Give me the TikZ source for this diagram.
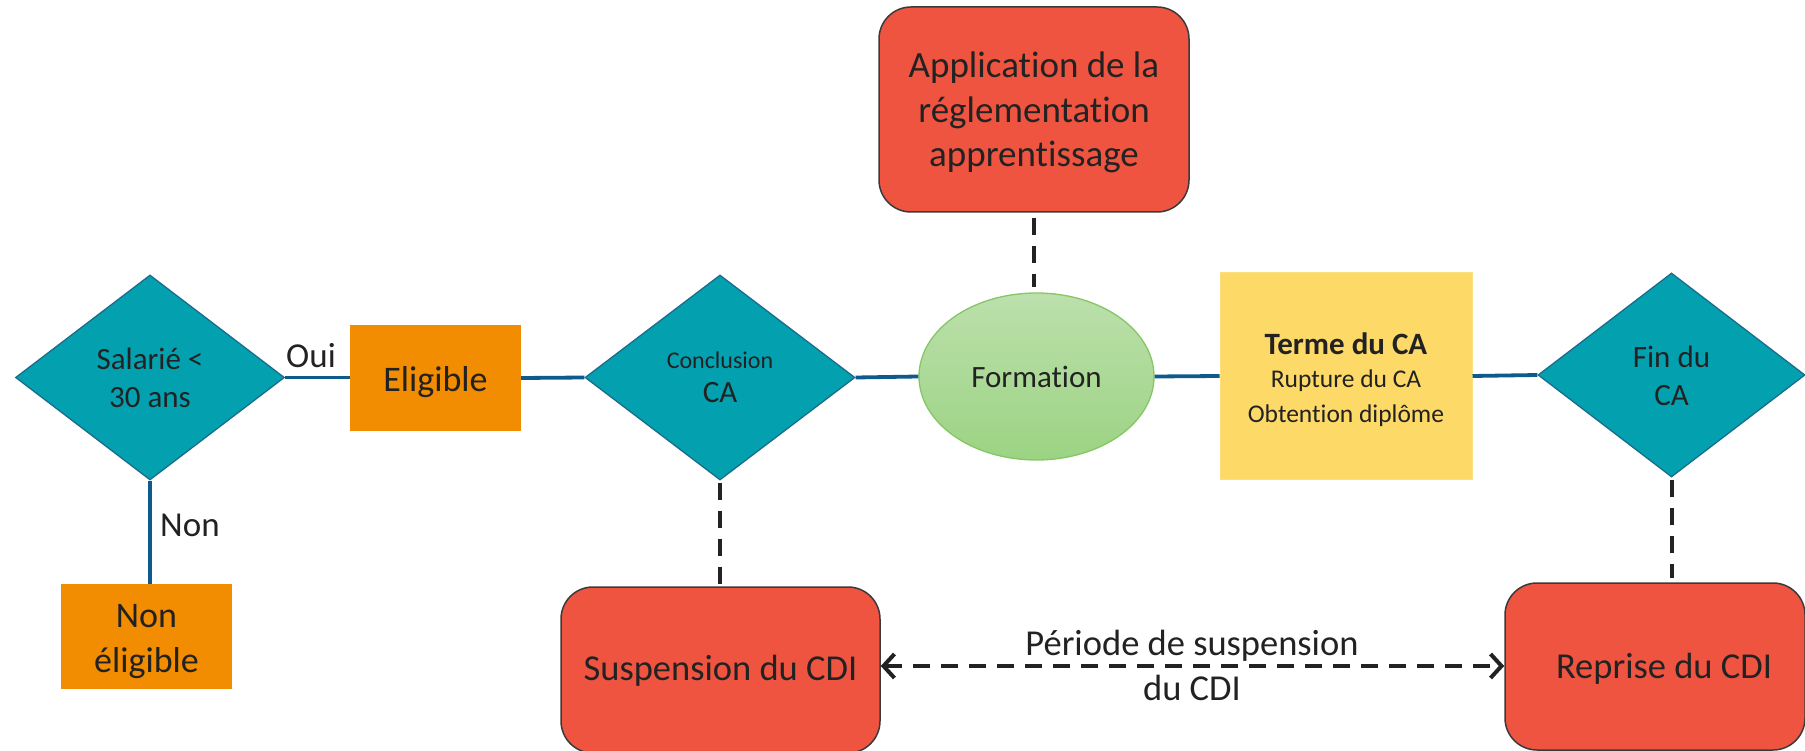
\documentclass[tikz,border=0pt]{standalone}
\usepackage{fontspec}
\setmainfont{Carlito}[Ligatures=NoCommon]
\usetikzlibrary{shapes.geometric,arrows.meta}
\definecolor{diafill}{HTML}{03A0B0}
\definecolor{diaedge}{HTML}{1A6C8C}
\definecolor{orangebox}{HTML}{F28C00}
\definecolor{redbox}{HTML}{EF5441}
\definecolor{rededge}{HTML}{3A3A3A}
\definecolor{yellowbox}{HTML}{FDD967}
\definecolor{linkblue}{HTML}{0F5A8C}
\definecolor{greentop}{HTML}{BCE0AC}
\definecolor{greenbot}{HTML}{9CD383}
\definecolor{greenedge}{HTML}{86C666}
\definecolor{txt}{HTML}{222222}
\tikzset{
  dia/.style={diamond, fill=diafill, draw=diaedge, line width=1.3pt, inner sep=0pt},
  obox/.style={rectangle, fill=orangebox, inner sep=0pt},
  rbox/.style={rectangle, rounded corners=32pt, fill=redbox, draw=rededge, line width=1.5pt, inner sep=0pt},
  ybox/.style={rectangle, fill=yellowbox, draw=yellowbox!85!white, line width=1pt, inner sep=0pt},
  oval/.style={ellipse, top color=greentop, bottom color=greenbot, draw=greenedge, line width=1.3pt, inner sep=0pt},
  lbl/.style={anchor=base, inner sep=0pt, text=txt},
  link/.style={draw=linkblue, line width=3.8pt},
  dlink/.style={draw=txt, line width=4pt, dash pattern=on 17pt off 11pt}
}
\newcommand{\fs}[1]{\fontsize{#1}{#1}\selectfont}
\begin{document}
\begin{tikzpicture}[x=1pt,y=-1pt]
\path[use as bounding box] (0,0) rectangle (1805,751);

% shapes
\node[dia, minimum width=269pt, minimum height=205pt] (d1) at (150,377.5) {};
\node[obox, minimum width=171pt, minimum height=106pt] (elig) at (435.5,378) {};
\node[obox, minimum width=171pt, minimum height=105pt] (nonel) at (146.5,636.5) {};
\node[dia, minimum width=270pt, minimum height=205pt] (d2) at (720,377.5) {};
\node[oval, minimum width=235pt, minimum height=167pt] (form) at (1036.5,376.5) {};
\node[rbox, minimum width=310pt, minimum height=205pt] (app) at (1034,109.5) {};
\node[ybox, minimum width=252pt, minimum height=206pt] (yel) at (1346,376) {};
\node[dia, minimum width=267pt, minimum height=204pt] (d3) at (1671.5,375) {};
\node[rbox, minimum width=319pt, minimum height=166pt] (susp) at (720.5,670) {};
\node[rbox, minimum width=300pt, minimum height=167pt] (rep) at (1655,666.5) {};

% texts
\node[lbl, font=\fs{31}] (t1a) at (150,370) {Salarié <};
\node[lbl, font=\fs{31}] (t1b) at (150,407) {30 ans};
\node[lbl, font=\fs{36}] (t2) at (435.5,391) {Eligible};
\node[lbl, font=\fs{36}] (t3a) at (146.5,627) {Non};
\node[lbl, font=\fs{36}] (t3b) at (146.5,672) {éligible};
\node[lbl, font=\fs{35}] (oui) at (311,367) {Oui};
\node[lbl, font=\fs{35}, anchor=base west] (non) at (160,536) {Non};
\node[lbl, font=\fs{24}] (t4a) at (720,368) {Conclusion};
\node[lbl, font=\fs{31}] (t4b) at (720,402) {CA};
\node[lbl, font=\fs{31}] (t5) at (1036.5,387) {Formation};
\node[lbl, font=\fs{37}] (t6a) at (1034,78) {Application de la};
\node[lbl, font=\fs{37}] (t6b) at (1034,123) {réglementation};
\node[lbl, font=\fs{37}] (t6c) at (1034,167) {apprentissage};
\node[lbl, font=\fs{31}\bfseries] (t7a) at (1346,355) {Terme du CA};
\node[lbl, font=\fs{25.5}] (t7b) at (1346,388) {Rupture du CA};
\node[lbl, font=\fs{25.5}] (t7c) at (1346,422) {Obtention diplôme};
\node[lbl, font=\fs{31}] (t8a) at (1671.5,367) {Fin du};
\node[lbl, font=\fs{31}] (t8b) at (1671.5,405) {CA};
\node[lbl, font=\fs{36.5}] (t9) at (720.5,680) {Suspension du CDI};
\node[lbl, font=\fs{36.5}] (t10) at (1664,678) {Reprise du CDI};
\node[lbl, font=\fs{36.5}] (p1) at (1192,655) {Période de suspension};
\node[lbl, font=\fs{36.5}] (p2) at (1192,700) {du CDI};

% solid connectors
\draw[link] (d1.east) -- (elig.west |- d1.east);
\draw[link] (d1.south) -- (d1.south |- nonel.north);
\draw[link] (elig.east) -- (d2.west);
\draw[link] (d2.east) -- (form.west);
\draw[link] (form.east) -- (yel.west);
\draw[link] (yel.east) -- (d3.west);

% dashed connectors
\draw[dlink, shorten <=5pt, shorten >=5pt] (app.south) -- (app.south |- form.north);
\draw[dlink, shorten <=2pt, shorten >=2pt] (d2.south) -- (d2.south |- susp.north);
\draw[dlink, shorten <=2pt, shorten >=4pt] (d3.south) -- (d3.south |- rep.north);
\draw[dlink, {Straight Barb[length=11pt,width=24pt]}-{Straight Barb[length=11pt,width=24pt]}] (susp.east |- 0,666) -- (rep.west |- 0,666);
\end{tikzpicture}
\end{document}
